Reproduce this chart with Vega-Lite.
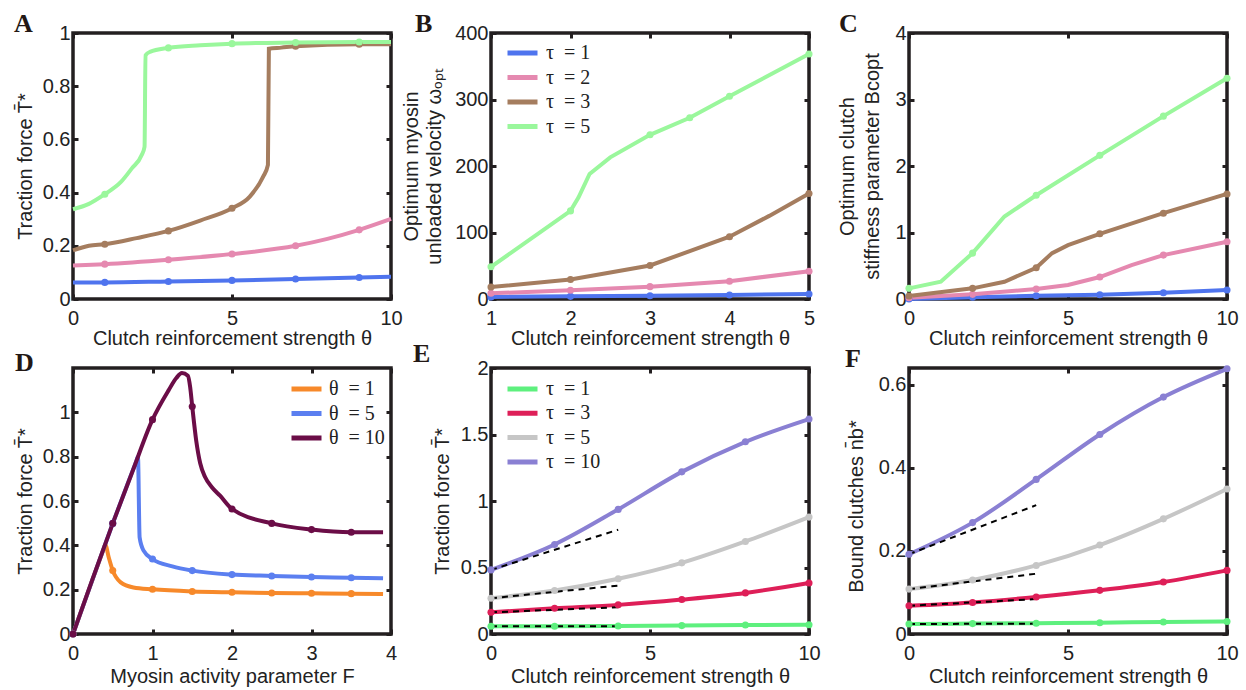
{
  "$schema": "https://vega.github.io/schema/vega-lite/v6.json",
  "background": "white",
  "padding": {"left": 12, "top": 9, "right": 5, "bottom": 0},
  "bounds": "flush",
  "columns": 3,
  "spacing": {"row": 69, "column": 100},
  "resolve": {"scale": {"color": "independent"}, "legend": {"color": "independent"}},
  "config": {
    "font": "Liberation Sans",
    "view": {"stroke": "#231f20", "strokeWidth": 3.5},
    "axis": {
      "labelFont": "Liberation Sans", "labelFontSize": 20, "labelColor": "#222",
      "titleFont": "Liberation Sans", "titleFontSize": 20, "titleFontWeight": "normal", "titleColor": "#222",
      "domain": false, "grid": false, "ticks": true, "tickSize": -5, "tickWidth": 3, "tickColor": "#231f20",
      "labelFlush": false, "labelOverlap": false, "labelBound": false, "minExtent": 0,
      "titleBaseline": "alphabetic", "titleAlign": "center"
    },
    "axisBottom": {"labelPadding": 14.5},
    "axisLeft": {"labelPadding": 8, "titleAngle": -90},
    "axisTop": {"maxExtent": 0},
    "axisRight": {"maxExtent": 0},
    "legend": {"labelColor": "#222"}
  },
  "datasets": {
    "A": [
      {"s": "τ = 1", "x": 0, "y": 0.0625, "m": 0}, {"s": "τ = 1", "x": 1, "y": 0.0625, "m": 1}, {"s": "τ = 1", "x": 3, "y": 0.066, "m": 1}, {"s": "τ = 1", "x": 5, "y": 0.07, "m": 1}, {"s": "τ = 1", "x": 7, "y": 0.075, "m": 1}, {"s": "τ = 1", "x": 9, "y": 0.081, "m": 1}, {"s": "τ = 1", "x": 10, "y": 0.084, "m": 0},
      {"s": "τ = 2", "x": 0, "y": 0.126, "m": 0}, {"s": "τ = 2", "x": 1, "y": 0.131, "m": 1}, {"s": "τ = 2", "x": 3, "y": 0.1475, "m": 1}, {"s": "τ = 2", "x": 5, "y": 0.169, "m": 1}, {"s": "τ = 2", "x": 7, "y": 0.2, "m": 1}, {"s": "τ = 2", "x": 8, "y": 0.226, "m": 0}, {"s": "τ = 2", "x": 9, "y": 0.26, "m": 1}, {"s": "τ = 2", "x": 10, "y": 0.301, "m": 0},
      {"s": "τ = 3", "x": 0, "y": 0.1825, "m": 0}, {"s": "τ = 3", "x": 0.5, "y": 0.2, "m": 0}, {"s": "τ = 3", "x": 1, "y": 0.206, "m": 1}, {"s": "τ = 3", "x": 2, "y": 0.229, "m": 0}, {"s": "τ = 3", "x": 3, "y": 0.256, "m": 1}, {"s": "τ = 3", "x": 4, "y": 0.295, "m": 0}, {"s": "τ = 3", "x": 5, "y": 0.341, "m": 1}, {"s": "τ = 3", "x": 5.56, "y": 0.385, "m": 0}, {"s": "τ = 3", "x": 5.98, "y": 0.46, "m": 0}, {"s": "τ = 3", "x": 6.13, "y": 0.504, "m": 0}, {"s": "τ = 3", "x": 6.16, "y": 0.941, "m": 0}, {"s": "τ = 3", "x": 6.55, "y": 0.945, "m": 0}, {"s": "τ = 3", "x": 7, "y": 0.95, "m": 1}, {"s": "τ = 3", "x": 9, "y": 0.9575, "m": 1}, {"s": "τ = 3", "x": 10, "y": 0.9575, "m": 0},
      {"s": "τ = 5", "x": 0, "y": 0.3375, "m": 0}, {"s": "τ = 5", "x": 0.5, "y": 0.3575, "m": 0}, {"s": "τ = 5", "x": 1, "y": 0.394, "m": 1}, {"s": "τ = 5", "x": 1.5, "y": 0.439, "m": 0}, {"s": "τ = 5", "x": 1.85, "y": 0.491, "m": 0}, {"s": "τ = 5", "x": 2.16, "y": 0.541, "m": 0}, {"s": "τ = 5", "x": 2.25, "y": 0.5725, "m": 0}, {"s": "τ = 5", "x": 2.28, "y": 0.916, "m": 0}, {"s": "τ = 5", "x": 2.42, "y": 0.929, "m": 0}, {"s": "τ = 5", "x": 3, "y": 0.944, "m": 1}, {"s": "τ = 5", "x": 4, "y": 0.954, "m": 0}, {"s": "τ = 5", "x": 5, "y": 0.96, "m": 1}, {"s": "τ = 5", "x": 7, "y": 0.964, "m": 1}, {"s": "τ = 5", "x": 9, "y": 0.966, "m": 1}, {"s": "τ = 5", "x": 10, "y": 0.966, "m": 0}
    ],
    "B": [
      {"s": "τ = 1", "x": 1, "y": 3, "m": 1}, {"s": "τ = 1", "x": 2, "y": 4, "m": 1}, {"s": "τ = 1", "x": 3, "y": 5, "m": 1}, {"s": "τ = 1", "x": 4, "y": 6, "m": 1}, {"s": "τ = 1", "x": 5, "y": 7.6, "m": 1},
      {"s": "τ = 2", "x": 1, "y": 8.6, "m": 1}, {"s": "τ = 2", "x": 2, "y": 13.1, "m": 1}, {"s": "τ = 2", "x": 3, "y": 18.6, "m": 1}, {"s": "τ = 2", "x": 4, "y": 26.7, "m": 1}, {"s": "τ = 2", "x": 5, "y": 41.8, "m": 1},
      {"s": "τ = 3", "x": 1, "y": 18.1, "m": 1}, {"s": "τ = 3", "x": 2, "y": 29.2, "m": 1}, {"s": "τ = 3", "x": 3, "y": 50.4, "m": 1}, {"s": "τ = 3", "x": 3.5, "y": 72, "m": 0}, {"s": "τ = 3", "x": 4, "y": 93.7, "m": 1}, {"s": "τ = 3", "x": 4.5, "y": 125, "m": 0}, {"s": "τ = 3", "x": 5, "y": 158.7, "m": 1},
      {"s": "τ = 5", "x": 1, "y": 48.4, "m": 1}, {"s": "τ = 5", "x": 2, "y": 132.5, "m": 1}, {"s": "τ = 5", "x": 2.1, "y": 152.6, "m": 0}, {"s": "τ = 5", "x": 2.24, "y": 188, "m": 0}, {"s": "τ = 5", "x": 2.5, "y": 213, "m": 0}, {"s": "τ = 5", "x": 3, "y": 246.9, "m": 1}, {"s": "τ = 5", "x": 3.5, "y": 272.5, "m": 1}, {"s": "τ = 5", "x": 4, "y": 304.8, "m": 1}, {"s": "τ = 5", "x": 5, "y": 368.3, "m": 1}
    ],
    "C": [
      {"s": "τ = 1", "x": 0, "y": 0, "m": 1}, {"s": "τ = 1", "x": 2, "y": 0.025, "m": 1}, {"s": "τ = 1", "x": 4, "y": 0.05, "m": 1}, {"s": "τ = 1", "x": 6, "y": 0.065, "m": 1}, {"s": "τ = 1", "x": 8, "y": 0.095, "m": 1}, {"s": "τ = 1", "x": 10, "y": 0.135, "m": 1},
      {"s": "τ = 2", "x": 0, "y": 0.02, "m": 1}, {"s": "τ = 2", "x": 2, "y": 0.07, "m": 1}, {"s": "τ = 2", "x": 4, "y": 0.15, "m": 1}, {"s": "τ = 2", "x": 5, "y": 0.21, "m": 0}, {"s": "τ = 2", "x": 6, "y": 0.33, "m": 1}, {"s": "τ = 2", "x": 7, "y": 0.51, "m": 0}, {"s": "τ = 2", "x": 8, "y": 0.66, "m": 1}, {"s": "τ = 2", "x": 10, "y": 0.86, "m": 1},
      {"s": "τ = 3", "x": 0, "y": 0.045, "m": 1}, {"s": "τ = 3", "x": 2, "y": 0.16, "m": 1}, {"s": "τ = 3", "x": 3, "y": 0.26, "m": 0}, {"s": "τ = 3", "x": 4, "y": 0.47, "m": 1}, {"s": "τ = 3", "x": 4.5, "y": 0.69, "m": 0}, {"s": "τ = 3", "x": 5, "y": 0.81, "m": 0}, {"s": "τ = 3", "x": 6, "y": 0.98, "m": 1}, {"s": "τ = 3", "x": 8, "y": 1.29, "m": 1}, {"s": "τ = 3", "x": 10, "y": 1.58, "m": 1},
      {"s": "τ = 5", "x": 0, "y": 0.16, "m": 1}, {"s": "τ = 5", "x": 1, "y": 0.26, "m": 0}, {"s": "τ = 5", "x": 2, "y": 0.69, "m": 1}, {"s": "τ = 5", "x": 3, "y": 1.24, "m": 0}, {"s": "τ = 5", "x": 4, "y": 1.56, "m": 1}, {"s": "τ = 5", "x": 6, "y": 2.16, "m": 1}, {"s": "τ = 5", "x": 8, "y": 2.75, "m": 1}, {"s": "τ = 5", "x": 10, "y": 3.32, "m": 1}
    ],
    "D": [
      {"s": "θ = 1", "x": 0, "y": 0, "m": 1}, {"s": "θ = 1", "x": 0.2, "y": 0.2, "m": 0}, {"s": "θ = 1", "x": 0.38, "y": 0.378, "m": 0}, {"s": "θ = 1", "x": 0.406, "y": 0.403, "m": 0}, {"s": "θ = 1", "x": 0.45, "y": 0.345, "m": 0}, {"s": "θ = 1", "x": 0.5, "y": 0.286, "m": 1}, {"s": "θ = 1", "x": 0.6, "y": 0.233, "m": 0}, {"s": "θ = 1", "x": 0.76, "y": 0.21, "m": 0}, {"s": "θ = 1", "x": 1, "y": 0.2015, "m": 1}, {"s": "θ = 1", "x": 1.5, "y": 0.192, "m": 1}, {"s": "θ = 1", "x": 2, "y": 0.188, "m": 1}, {"s": "θ = 1", "x": 2.5, "y": 0.185, "m": 1}, {"s": "θ = 1", "x": 3, "y": 0.1835, "m": 1}, {"s": "θ = 1", "x": 3.5, "y": 0.182, "m": 1}, {"s": "θ = 1", "x": 3.9, "y": 0.18, "m": 0},
      {"s": "θ = 5", "x": 0, "y": 0, "m": 1}, {"s": "θ = 5", "x": 0.25, "y": 0.25, "m": 0}, {"s": "θ = 5", "x": 0.5, "y": 0.499, "m": 1}, {"s": "θ = 5", "x": 0.7, "y": 0.689, "m": 0}, {"s": "θ = 5", "x": 0.8, "y": 0.783, "m": 0}, {"s": "θ = 5", "x": 0.817, "y": 0.8, "m": 0}, {"s": "θ = 5", "x": 0.838, "y": 0.436, "m": 0}, {"s": "θ = 5", "x": 0.888, "y": 0.376, "m": 0}, {"s": "θ = 5", "x": 1, "y": 0.338, "m": 1}, {"s": "θ = 5", "x": 1.25, "y": 0.305, "m": 0}, {"s": "θ = 5", "x": 1.5, "y": 0.286, "m": 1}, {"s": "θ = 5", "x": 2, "y": 0.268, "m": 1}, {"s": "θ = 5", "x": 2.5, "y": 0.262, "m": 1}, {"s": "θ = 5", "x": 3, "y": 0.257, "m": 1}, {"s": "θ = 5", "x": 3.5, "y": 0.254, "m": 1}, {"s": "θ = 5", "x": 3.9, "y": 0.251, "m": 0},
      {"s": "θ = 10", "x": 0, "y": 0, "m": 1}, {"s": "θ = 10", "x": 0.25, "y": 0.252, "m": 0}, {"s": "θ = 10", "x": 0.5, "y": 0.499, "m": 1}, {"s": "θ = 10", "x": 0.75, "y": 0.735, "m": 0}, {"s": "θ = 10", "x": 1, "y": 0.967, "m": 1}, {"s": "θ = 10", "x": 1.2, "y": 1.098, "m": 0}, {"s": "θ = 10", "x": 1.3, "y": 1.155, "m": 0}, {"s": "θ = 10", "x": 1.37, "y": 1.177, "m": 0}, {"s": "θ = 10", "x": 1.445, "y": 1.165, "m": 0}, {"s": "θ = 10", "x": 1.474, "y": 1.113, "m": 0}, {"s": "θ = 10", "x": 1.5, "y": 1.026, "m": 1}, {"s": "θ = 10", "x": 1.55, "y": 0.872, "m": 0}, {"s": "θ = 10", "x": 1.6, "y": 0.77, "m": 0}, {"s": "θ = 10", "x": 1.663, "y": 0.707, "m": 0}, {"s": "θ = 10", "x": 1.747, "y": 0.662, "m": 0}, {"s": "θ = 10", "x": 1.85, "y": 0.624, "m": 0}, {"s": "θ = 10", "x": 2, "y": 0.564, "m": 1}, {"s": "θ = 10", "x": 2.5, "y": 0.499, "m": 1}, {"s": "θ = 10", "x": 3, "y": 0.471, "m": 1}, {"s": "θ = 10", "x": 3.5, "y": 0.459, "m": 1}, {"s": "θ = 10", "x": 3.9, "y": 0.459, "m": 0}
    ],
    "E": [
      {"s": "τ = 1", "x": 0, "y": 0.058, "m": 1}, {"s": "τ = 1", "x": 2, "y": 0.058, "m": 1}, {"s": "τ = 1", "x": 4, "y": 0.06, "m": 1}, {"s": "τ = 1", "x": 6, "y": 0.063, "m": 1}, {"s": "τ = 1", "x": 8, "y": 0.068, "m": 1}, {"s": "τ = 1", "x": 10, "y": 0.07, "m": 1},
      {"s": "τ = 3", "x": 0, "y": 0.163, "m": 1}, {"s": "τ = 3", "x": 2, "y": 0.193, "m": 1}, {"s": "τ = 3", "x": 4, "y": 0.219, "m": 1}, {"s": "τ = 3", "x": 6, "y": 0.259, "m": 1}, {"s": "τ = 3", "x": 8, "y": 0.309, "m": 1}, {"s": "τ = 3", "x": 10, "y": 0.384, "m": 1},
      {"s": "τ = 5", "x": 0, "y": 0.269, "m": 1}, {"s": "τ = 5", "x": 2, "y": 0.327, "m": 1}, {"s": "τ = 5", "x": 4, "y": 0.415, "m": 1}, {"s": "τ = 5", "x": 6, "y": 0.535, "m": 1}, {"s": "τ = 5", "x": 8, "y": 0.696, "m": 1}, {"s": "τ = 5", "x": 10, "y": 0.879, "m": 1},
      {"s": "τ = 10", "x": 0, "y": 0.482, "m": 1}, {"s": "τ = 10", "x": 2, "y": 0.673, "m": 1}, {"s": "τ = 10", "x": 4, "y": 0.937, "m": 1}, {"s": "τ = 10", "x": 6, "y": 1.219, "m": 1}, {"s": "τ = 10", "x": 8, "y": 1.445, "m": 1}, {"s": "τ = 10", "x": 10, "y": 1.616, "m": 1}
    ],
    "Ed": [
      {"s": "τ = 1", "x": 0, "y": 0.058}, {"s": "τ = 1", "x": 4, "y": 0.058},
      {"s": "τ = 3", "x": 0, "y": 0.163}, {"s": "τ = 3", "x": 4, "y": 0.201},
      {"s": "τ = 5", "x": 0, "y": 0.269}, {"s": "τ = 5", "x": 4, "y": 0.364},
      {"s": "τ = 10", "x": 0, "y": 0.482}, {"s": "τ = 10", "x": 4, "y": 0.784}
    ],
    "F": [
      {"s": "τ = 1", "x": 0, "y": 0.024, "m": 1}, {"s": "τ = 1", "x": 2, "y": 0.025, "m": 1}, {"s": "τ = 1", "x": 4, "y": 0.026, "m": 1}, {"s": "τ = 1", "x": 6, "y": 0.027, "m": 1}, {"s": "τ = 1", "x": 8, "y": 0.029, "m": 1}, {"s": "τ = 1", "x": 10, "y": 0.03, "m": 1},
      {"s": "τ = 3", "x": 0, "y": 0.068, "m": 1}, {"s": "τ = 3", "x": 2, "y": 0.076, "m": 1}, {"s": "τ = 3", "x": 4, "y": 0.089, "m": 1}, {"s": "τ = 3", "x": 6, "y": 0.105, "m": 1}, {"s": "τ = 3", "x": 8, "y": 0.125, "m": 1}, {"s": "τ = 3", "x": 10, "y": 0.153, "m": 1},
      {"s": "τ = 5", "x": 0, "y": 0.108, "m": 1}, {"s": "τ = 5", "x": 2, "y": 0.13, "m": 1}, {"s": "τ = 5", "x": 4, "y": 0.165, "m": 1}, {"s": "τ = 5", "x": 6, "y": 0.214, "m": 1}, {"s": "τ = 5", "x": 8, "y": 0.277, "m": 1}, {"s": "τ = 5", "x": 10, "y": 0.349, "m": 1},
      {"s": "τ = 10", "x": 0, "y": 0.192, "m": 1}, {"s": "τ = 10", "x": 2, "y": 0.268, "m": 1}, {"s": "τ = 10", "x": 4, "y": 0.372, "m": 1}, {"s": "τ = 10", "x": 6, "y": 0.48, "m": 1}, {"s": "τ = 10", "x": 8, "y": 0.57, "m": 1}, {"s": "τ = 10", "x": 10, "y": 0.638, "m": 1}
    ],
    "Fd": [
      {"s": "τ = 1", "x": 0, "y": 0.024}, {"s": "τ = 1", "x": 4, "y": 0.025},
      {"s": "τ = 3", "x": 0, "y": 0.068}, {"s": "τ = 3", "x": 4, "y": 0.084},
      {"s": "τ = 5", "x": 0, "y": 0.108}, {"s": "τ = 5", "x": 4, "y": 0.145},
      {"s": "τ = 10", "x": 0, "y": 0.192}, {"s": "τ = 10", "x": 4, "y": 0.31}
    ]
  },
  "concat": [
    {
      "title": {"text": "A", "anchor": "start", "frame": "group", "dx": -59, "dy": 38, "offset": 3, "baseline": "alphabetic", "font": "Liberation Serif", "fontSize": 26, "fontWeight": "bold", "color": "#231815"},
      "width": 318, "height": 266,
      "data": {"name": "A"},
      "resolve": {"axis": {"x": "independent", "y": "independent"}},
      "layer": [
        {
          "mark": {"type": "line", "strokeWidth": 4, "interpolate": "monotone"},
          "encoding": {
            "x": {"field": "x", "type": "quantitative", "scale": {"domain": [0, 10], "nice": false, "zero": false}, "axis": {"orient": "bottom", "values": [0, 5, 10], "format": "~f", "title": "Clutch reinforcement strength θ", "titleY": 45}},
            "y": {"field": "y", "type": "quantitative", "scale": {"domain": [0, 1], "nice": false}, "axis": {"orient": "left", "values": [0, 0.2, 0.4, 0.6, 0.8, 1], "format": "~f", "title": "Traction force T̄*", "titleX": -42, "titleY": 133}},
            "color": {"field": "s", "type": "nominal", "scale": {"domain": ["τ = 1", "τ = 2", "τ = 3", "τ = 5"], "range": ["#4f74ee", "#e589b0", "#a57d5f", "#9af79c"]}, "legend": null}
          }
        },
        {
          "transform": [{"filter": "datum.m"}],
          "mark": {"type": "point", "filled": true, "size": 50, "opacity": 1},
          "encoding": {
            "x": {"field": "x", "type": "quantitative", "scale": {"domain": [0, 10], "nice": false, "zero": false}, "axis": {"orient": "top", "values": [0, 5, 10], "labels": false, "title": null, "minExtent": 0, "maxExtent": 0}},
            "y": {"field": "y", "type": "quantitative", "scale": {"domain": [0, 1], "nice": false}, "axis": {"orient": "right", "values": [0, 0.2, 0.4, 0.6, 0.8, 1], "labels": false, "title": null, "minExtent": 0, "maxExtent": 0}},
            "color": {"field": "s", "type": "nominal", "scale": {"domain": ["τ = 1", "τ = 2", "τ = 3", "τ = 5"], "range": ["#4f74ee", "#e589b0", "#a57d5f", "#9af79c"]}, "legend": null}
          }
        }
      ]
    },
    {
      "title": {"text": "B", "anchor": "start", "frame": "group", "dx": -76, "dy": 38, "offset": 3, "baseline": "alphabetic", "font": "Liberation Serif", "fontSize": 26, "fontWeight": "bold", "color": "#231815"},
      "width": 318, "height": 266,
      "data": {"name": "B"},
      "resolve": {"axis": {"x": "independent", "y": "independent"}},
      "layer": [
        {
          "mark": {"type": "line", "strokeWidth": 4, "interpolate": "linear"},
          "encoding": {
            "x": {"field": "x", "type": "quantitative", "scale": {"domain": [1, 5], "nice": false, "zero": false}, "axis": {"orient": "bottom", "values": [1, 2, 3, 4, 5], "format": "~f", "title": "Clutch reinforcement strength θ", "titleY": 45}},
            "y": {"field": "y", "type": "quantitative", "scale": {"domain": [0, 400], "nice": false}, "axis": {"orient": "left", "values": [0, 100, 200, 300, 400], "format": "~f", "title": ["Optimum myosin", "unloaded velocity ωₒₚₜ"], "titleX": -74, "titleY": 133, "titleLineHeight": 23}},
            "color": {"field": "s", "type": "nominal", "scale": {"domain": ["τ = 1", "τ = 2", "τ = 3", "τ = 5"], "range": ["#4f74ee", "#e589b0", "#a57d5f", "#9af79c"]},
              "legend": {"orient": "none", "legendX": 14, "legendY": 11, "title": null, "symbolType": "stroke", "symbolSize": 900, "symbolStrokeWidth": 5, "labelFont": "Liberation Serif", "labelFontSize": 20, "labelOffset": 6, "clipHeight": 18, "rowPadding": 4.5, "padding": 0, "labelExpr": "replace(datum.label, ' =', '\u00a0 =')"}}
          }
        },
        {
          "transform": [{"filter": "datum.m"}],
          "mark": {"type": "point", "filled": true, "size": 50, "opacity": 1},
          "encoding": {
            "x": {"field": "x", "type": "quantitative", "scale": {"domain": [1, 5], "nice": false, "zero": false}, "axis": {"orient": "top", "values": [1, 2, 3, 4, 5], "labels": false, "title": null, "minExtent": 0, "maxExtent": 0}},
            "y": {"field": "y", "type": "quantitative", "scale": {"domain": [0, 400], "nice": false}, "axis": {"orient": "right", "values": [0, 100, 200, 300, 400], "labels": false, "title": null, "minExtent": 0, "maxExtent": 0}},
            "color": {"field": "s", "type": "nominal", "scale": {"domain": ["τ = 1", "τ = 2", "τ = 3", "τ = 5"], "range": ["#4f74ee", "#e589b0", "#a57d5f", "#9af79c"]}, "legend": null}
          }
        }
      ]
    },
    {
      "title": {"text": "C", "anchor": "start", "frame": "group", "dx": -70, "dy": 38, "offset": 3, "baseline": "alphabetic", "font": "Liberation Serif", "fontSize": 26, "fontWeight": "bold", "color": "#231815"},
      "width": 318, "height": 266,
      "data": {"name": "C"},
      "resolve": {"axis": {"x": "independent", "y": "independent"}},
      "layer": [
        {
          "mark": {"type": "line", "strokeWidth": 4, "interpolate": "linear"},
          "encoding": {
            "x": {"field": "x", "type": "quantitative", "scale": {"domain": [0, 10], "nice": false, "zero": false}, "axis": {"orient": "bottom", "values": [0, 5, 10], "format": "~f", "title": "Clutch reinforcement strength θ", "titleY": 45}},
            "y": {"field": "y", "type": "quantitative", "scale": {"domain": [0, 4], "nice": false}, "axis": {"orient": "left", "values": [0, 1, 2, 3, 4], "format": "~f", "title": ["Optimum clutch", "stiffness parameter Bcopt"], "titleX": -56, "titleY": 133, "titleLineHeight": 25}},
            "color": {"field": "s", "type": "nominal", "scale": {"domain": ["τ = 1", "τ = 2", "τ = 3", "τ = 5"], "range": ["#4f74ee", "#e589b0", "#a57d5f", "#9af79c"]}, "legend": null}
          }
        },
        {
          "transform": [{"filter": "datum.m"}],
          "mark": {"type": "point", "filled": true, "size": 50, "opacity": 1},
          "encoding": {
            "x": {"field": "x", "type": "quantitative", "scale": {"domain": [0, 10], "nice": false, "zero": false}, "axis": {"orient": "top", "values": [0, 5, 10], "labels": false, "title": null, "minExtent": 0, "maxExtent": 0}},
            "y": {"field": "y", "type": "quantitative", "scale": {"domain": [0, 4], "nice": false}, "axis": {"orient": "right", "values": [0, 1, 2, 3, 4], "labels": false, "title": null, "minExtent": 0, "maxExtent": 0}},
            "color": {"field": "s", "type": "nominal", "scale": {"domain": ["τ = 1", "τ = 2", "τ = 3", "τ = 5"], "range": ["#4f74ee", "#e589b0", "#a57d5f", "#9af79c"]}, "legend": null}
          }
        }
      ]
    },
    {
      "title": {"text": "D", "anchor": "start", "frame": "group", "dx": -58, "dy": 35, "offset": 3, "baseline": "alphabetic", "font": "Liberation Serif", "fontSize": 26, "fontWeight": "bold", "color": "#231815"},
      "width": 318, "height": 266,
      "data": {"name": "D"},
      "resolve": {"axis": {"x": "independent", "y": "independent"}},
      "layer": [
        {
          "mark": {"type": "line", "strokeWidth": 4, "interpolate": "monotone"},
          "encoding": {
            "x": {"field": "x", "type": "quantitative", "scale": {"domain": [0, 4], "nice": false, "zero": false}, "axis": {"orient": "bottom", "values": [0, 1, 2, 3, 4], "format": "~f", "title": "Myosin activity parameter F", "titleY": 48}},
            "y": {"field": "y", "type": "quantitative", "scale": {"domain": [0, 1.2], "nice": false}, "axis": {"orient": "left", "values": [0, 0.2, 0.4, 0.6, 0.8, 1], "format": "~f", "title": "Traction force T̄*", "titleX": -42, "titleY": 133}},
            "color": {"field": "s", "type": "nominal", "scale": {"domain": ["θ = 1", "θ = 5", "θ = 10"], "range": ["#f7892a", "#5b7ff0", "#6b0d47"]},
              "legend": {"orient": "none", "legendX": 216, "legendY": 12, "title": null, "symbolType": "stroke", "symbolSize": 900, "symbolStrokeWidth": 5, "labelFont": "Liberation Serif", "labelFontSize": 20, "labelOffset": 5, "clipHeight": 18, "rowPadding": 4.5, "padding": 0, "labelExpr": "replace(datum.label, ' =', '\u00a0 =')"}}
          }
        },
        {
          "transform": [{"filter": "datum.m"}],
          "mark": {"type": "point", "filled": true, "size": 50, "opacity": 1},
          "encoding": {
            "x": {"field": "x", "type": "quantitative", "scale": {"domain": [0, 4], "nice": false, "zero": false}, "axis": {"orient": "top", "values": [0, 1, 2, 3, 4], "labels": false, "title": null, "minExtent": 0, "maxExtent": 0}},
            "y": {"field": "y", "type": "quantitative", "scale": {"domain": [0, 1.2], "nice": false}, "axis": {"orient": "right", "values": [0, 0.2, 0.4, 0.6, 0.8, 1], "labels": false, "title": null, "minExtent": 0, "maxExtent": 0}},
            "color": {"field": "s", "type": "nominal", "scale": {"domain": ["θ = 1", "θ = 5", "θ = 10"], "range": ["#f7892a", "#5b7ff0", "#6b0d47"]}, "legend": null}
          }
        }
      ]
    },
    {
      "title": {"text": "E", "anchor": "start", "frame": "group", "dx": -78, "dy": 33, "offset": 3, "baseline": "alphabetic", "font": "Liberation Serif", "fontSize": 26, "fontWeight": "bold", "color": "#231815"},
      "width": 318, "height": 266,
      "resolve": {"axis": {"x": "independent", "y": "independent"}},
      "layer": [
        {
          "data": {"name": "E"},
          "mark": {"type": "line", "strokeWidth": 4, "interpolate": "monotone"},
          "encoding": {
            "x": {"field": "x", "type": "quantitative", "scale": {"domain": [0, 10], "nice": false, "zero": false}, "axis": {"orient": "bottom", "values": [0, 5, 10], "format": "~f", "title": "Clutch reinforcement strength θ", "titleY": 48}},
            "y": {"field": "y", "type": "quantitative", "scale": {"domain": [0, 2], "nice": false}, "axis": {"orient": "left", "values": [0, 0.5, 1, 1.5, 2], "format": "~f", "title": "Traction force T̄*", "titleX": -43, "titleY": 133}},
            "color": {"field": "s", "type": "nominal", "scale": {"domain": ["τ = 1", "τ = 3", "τ = 5", "τ = 10"], "range": ["#5ef07e", "#de1f58", "#c6c6c6", "#8a80d3"]},
              "legend": {"orient": "none", "legendX": 14, "legendY": 12, "title": null, "symbolType": "stroke", "symbolSize": 900, "symbolStrokeWidth": 5, "labelFont": "Liberation Serif", "labelFontSize": 20, "labelOffset": 6, "clipHeight": 18, "rowPadding": 4.3, "padding": 0, "labelExpr": "replace(datum.label, ' =', '\u00a0 =')"}}
          }
        },
        {
          "data": {"name": "Ed"},
          "mark": {"type": "line", "strokeWidth": 2, "strokeDash": [6, 5], "color": "#000"},
          "encoding": {
            "x": {"field": "x", "type": "quantitative", "scale": {"domain": [0, 10], "nice": false, "zero": false}, "axis": null},
            "y": {"field": "y", "type": "quantitative", "scale": {"domain": [0, 2], "nice": false}, "axis": null},
            "detail": {"field": "s", "type": "nominal"}
          }
        },
        {
          "data": {"name": "E"},
          "transform": [{"filter": "datum.m"}],
          "mark": {"type": "point", "filled": true, "size": 50, "opacity": 1},
          "encoding": {
            "x": {"field": "x", "type": "quantitative", "scale": {"domain": [0, 10], "nice": false, "zero": false}, "axis": {"orient": "top", "values": [0, 5, 10], "labels": false, "title": null, "minExtent": 0, "maxExtent": 0}},
            "y": {"field": "y", "type": "quantitative", "scale": {"domain": [0, 2], "nice": false}, "axis": {"orient": "right", "values": [0, 0.5, 1, 1.5, 2], "labels": false, "title": null, "minExtent": 0, "maxExtent": 0}},
            "color": {"field": "s", "type": "nominal", "scale": {"domain": ["τ = 1", "τ = 3", "τ = 5", "τ = 10"], "range": ["#5ef07e", "#de1f58", "#c6c6c6", "#8a80d3"]}, "legend": null}
          }
        }
      ]
    },
    {
      "title": {"text": "F", "anchor": "start", "frame": "group", "dx": -64, "dy": 35, "offset": 3, "baseline": "alphabetic", "font": "Liberation Serif", "fontSize": 26, "fontWeight": "bold", "color": "#231815"},
      "width": 318, "height": 266,
      "resolve": {"axis": {"x": "independent", "y": "independent"}},
      "layer": [
        {
          "data": {"name": "F"},
          "mark": {"type": "line", "strokeWidth": 4, "interpolate": "monotone"},
          "encoding": {
            "x": {"field": "x", "type": "quantitative", "scale": {"domain": [0, 10], "nice": false, "zero": false}, "axis": {"orient": "bottom", "values": [0, 5, 10], "format": "~f", "title": "Clutch reinforcement strength θ", "titleY": 48}},
            "y": {"field": "y", "type": "quantitative", "scale": {"domain": [0, 0.64], "nice": false}, "axis": {"orient": "left", "values": [0, 0.2, 0.4, 0.6], "format": "~f", "title": "Bound clutches n̄b*", "titleX": -47, "titleY": 138}},
            "color": {"field": "s", "type": "nominal", "scale": {"domain": ["τ = 1", "τ = 3", "τ = 5", "τ = 10"], "range": ["#5ef07e", "#de1f58", "#c6c6c6", "#8a80d3"]}, "legend": null}
          }
        },
        {
          "data": {"name": "Fd"},
          "mark": {"type": "line", "strokeWidth": 2, "strokeDash": [6, 5], "color": "#000"},
          "encoding": {
            "x": {"field": "x", "type": "quantitative", "scale": {"domain": [0, 10], "nice": false, "zero": false}, "axis": null},
            "y": {"field": "y", "type": "quantitative", "scale": {"domain": [0, 0.64], "nice": false}, "axis": null},
            "detail": {"field": "s", "type": "nominal"}
          }
        },
        {
          "data": {"name": "F"},
          "transform": [{"filter": "datum.m"}],
          "mark": {"type": "point", "filled": true, "size": 50, "opacity": 1},
          "encoding": {
            "x": {"field": "x", "type": "quantitative", "scale": {"domain": [0, 10], "nice": false, "zero": false}, "axis": {"orient": "top", "values": [0, 5, 10], "labels": false, "title": null, "minExtent": 0, "maxExtent": 0}},
            "y": {"field": "y", "type": "quantitative", "scale": {"domain": [0, 0.64], "nice": false}, "axis": {"orient": "right", "values": [0, 0.2, 0.4, 0.6], "labels": false, "title": null, "minExtent": 0, "maxExtent": 0}},
            "color": {"field": "s", "type": "nominal", "scale": {"domain": ["τ = 1", "τ = 3", "τ = 5", "τ = 10"], "range": ["#5ef07e", "#de1f58", "#c6c6c6", "#8a80d3"]}, "legend": null}
          }
        }
      ]
    }
  ]
}
